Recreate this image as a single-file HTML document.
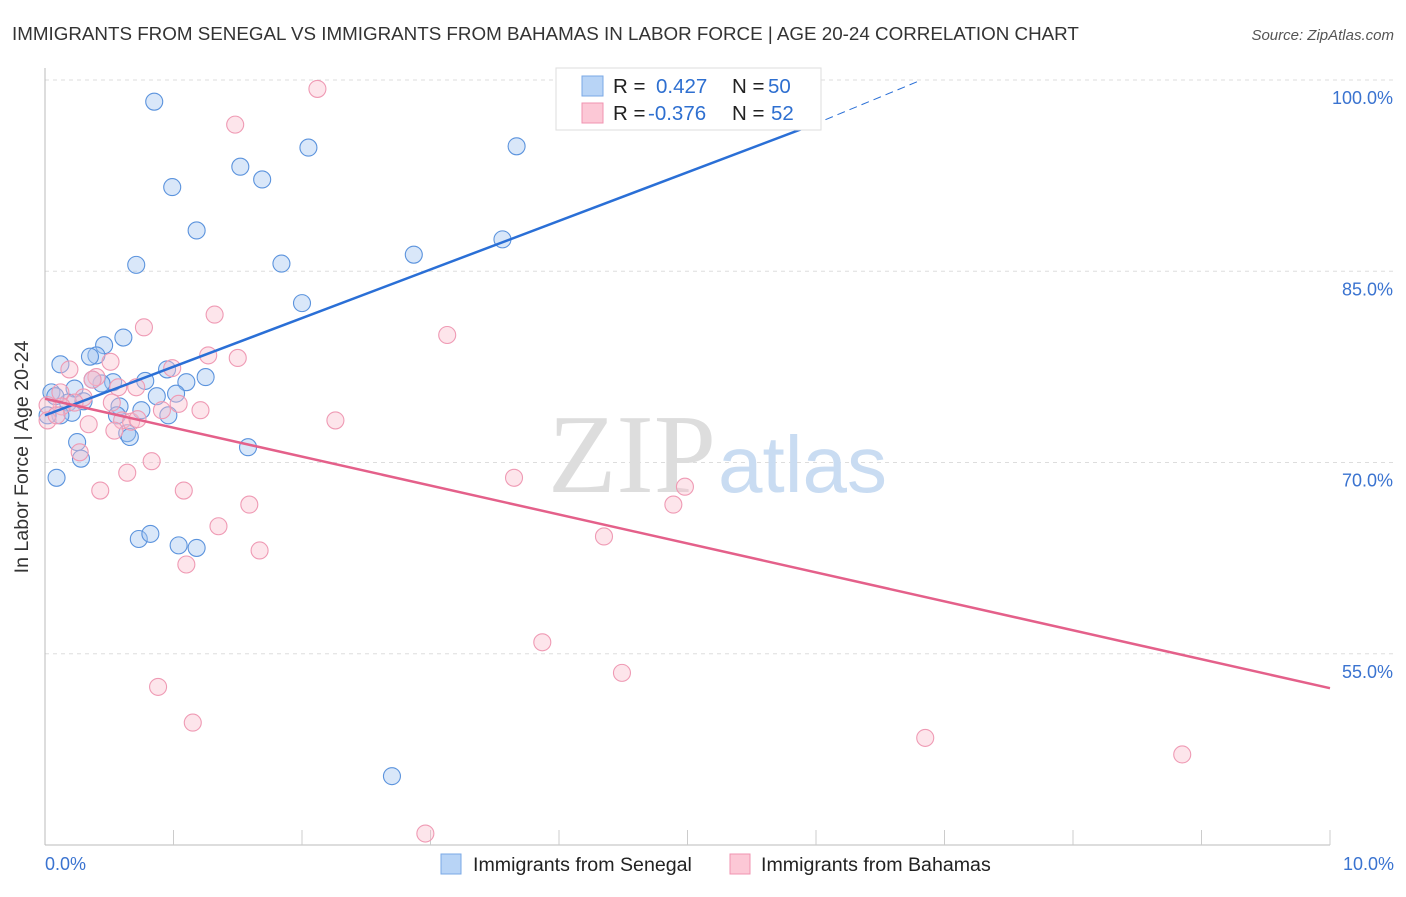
<!DOCTYPE html>
<html><head><meta charset="utf-8"><style>
body{margin:0;background:#fff;font-family:"Liberation Sans",sans-serif;}
</style></head><body>
<svg width="1406" height="892" xmlns="http://www.w3.org/2000/svg">
<text x="12" y="40" font-size="18.8" fill="#333">IMMIGRANTS FROM SENEGAL VS IMMIGRANTS FROM BAHAMAS IN LABOR FORCE | AGE 20-24 CORRELATION CHART</text>
<text x="1394" y="40" font-size="15" fill="#555" font-style="italic" text-anchor="end">Source: ZipAtlas.com</text>
<g id="grid"></g>
<text x="716" y="492" font-size="112" fill="#ddd" text-anchor="end" font-family="Liberation Serif,serif">ZIP</text>
<text x="718" y="492" font-size="80" fill="#c9dcf2">atlas</text>
<g id="pts"></g>
<g id="lines"></g>
<text x="28" y="457" font-size="19.6" fill="#333" text-anchor="middle" transform="rotate(-90 28 457)">In Labor Force | Age 20-24</text>
<g>
<rect x="556" y="68" width="265" height="62" fill="#fff" stroke="#ddd"/>
<rect x="582" y="76" width="21" height="20" fill="#b8d4f6" stroke="#7aa8e6"/>
<rect x="582" y="103" width="21" height="20" fill="#fcc8d6" stroke="#f093b0"/>
<text x="613" y="93" font-size="20.5" fill="#222">R = <tspan fill="#2e6fd0" x="656">0.427</tspan><tspan fill="#222" x="732">N = </tspan><tspan fill="#2e6fd0" x="768">50</tspan></text>
<text x="613" y="120" font-size="20.5" fill="#222">R = <tspan fill="#2e6fd0" x="648">-0.376</tspan><tspan fill="#222" x="732">N = </tspan><tspan fill="#2e6fd0" x="771">52</tspan></text>
</g>
<g>
<rect x="441" y="854" width="20" height="20" fill="#b8d4f6" stroke="#7aa8e6"/>
<text x="473" y="871" font-size="19.6" fill="#222">Immigrants from Senegal</text>
<rect x="730" y="854" width="20" height="20" fill="#fcc8d6" stroke="#f093b0"/>
<text x="761" y="871" font-size="19.6" fill="#222">Immigrants from Bahamas</text>
</g>
</svg>
<script>
const yTicks=[100,85,70,55];
const yTickLabels=["100.0%","85.0%","70.0%","55.0%"];
const xTickLabels=["0.0%","10.0%"];
const senegalX=[0.85,2.05,3.67,1.52,1.69,0.99,1.18,0.71,1.84,2.87,3.56,2,0.61,0.46,0.4,0.35,0.12,0.95,1.25,1.1,0.78,0.23,0.53,0.44,0.37,0.05,1.02,0.87,0.18,0.3,0.58,0.75,0.56,0.96,0.21,0.12,0.02,0.64,0.66,0.25,0.28,1.58,0.09,0.73,0.82,1.04,1.18,2.7,5.88,0.08];
const senegalY=[98.3,94.7,94.8,93.2,92.2,91.6,88.2,85.5,85.6,86.3,87.5,82.5,79.8,79.2,78.4,78.3,77.7,77.3,76.7,76.3,76.4,75.8,76.3,76.2,76.5,75.5,75.4,75.2,74.7,74.8,74.4,74.1,73.7,73.7,73.9,73.7,73.7,72.3,72,71.6,70.3,71.2,68.8,64,64.4,63.5,63.3,45.4,99.6,75.2];
const bahamasX=[2.12,5.21,1.48,1.32,0.77,3.13,1.27,1.5,0.51,0.99,0.19,0.4,0.37,0.71,0.12,0.57,1.04,1.21,0.91,0.52,0.3,0.23,0.13,0.02,2.26,0.34,0.6,0.67,0.27,0.83,0.64,0.43,1.08,3.65,4.98,4.89,1.59,1.35,4.35,1.67,1.1,3.87,4.49,0.88,1.15,6.85,8.85,2.96,0.02,0.54,0.09,0.72];
const bahamasY=[99.3,100,96.5,81.6,80.6,80,78.4,78.2,77.9,77.4,77.3,76.7,76.5,75.9,75.5,75.9,74.6,74.1,74.1,74.7,75.1,74.7,74.4,74.5,73.3,73,73.3,73.2,70.8,70.1,69.2,67.8,67.8,68.8,68.1,66.7,66.7,65,64.2,63.1,62,55.9,53.5,52.4,49.6,48.4,47.1,40.9,73.3,72.5,73.7,73.4];
const blueLine=[0,73.7,5.98,96.5,6.82,100];
const pinkLine=[0,75,10,52.3];
const NS="http://www.w3.org/2000/svg";
const X=v=>45+v*128.5, Y=v=>80+(100-v)*12.75;
function mk(t,a,p){const e=document.createElementNS(NS,t);for(const k in a)e.setAttribute(k,a[k]);p.appendChild(e);return e;}
const grid=document.getElementById('grid');
yTicks.forEach((t,i)=>{
 const l=mk('line',{x1:45,x2:1394,y1:Y(t),y2:Y(t),stroke:'#ddd','stroke-dasharray':'4 4'},grid);
 
 
 const tx=mk('text',{x:1393,y:Y(t)+24,'font-size':18,fill:'#3a73d0','text-anchor':'end'},grid);
 tx.textContent=yTickLabels[i];
 
 
});
const ax=mk('line',{x1:45,x2:45,y1:68,y2:845,stroke:'#bbb'},grid);


const bx=mk('line',{x1:45,x2:1330,y1:845,y2:845,stroke:'#bbb'},grid);


for(let i=1;i<=10;i++){const t=mk('line',{x1:X(i),x2:X(i),y1:830,y2:845,stroke:'#ccc'},grid);
 
 }
[[0,'start',45],[10,'end',1394]].forEach((d,i)=>{const t=mk('text',{x:d[2],y:870,'font-size':18,fill:'#3a73d0','text-anchor':d[1]},grid);t.textContent=xTickLabels[i];
 
 });
const pts=document.getElementById('pts');
senegalX.forEach((x,i)=>{const c=mk('circle',{cx:X(x),cy:Y(senegalY[i]),r:8.5,fill:'rgba(160,196,240,0.4)',stroke:'#5b93dd','stroke-width':1.1},pts);
 
 });
bahamasX.forEach((x,i)=>{const c=mk('circle',{cx:X(x),cy:Y(bahamasY[i]),r:8.5,fill:'rgba(250,190,206,0.4)',stroke:'#ef9ab4','stroke-width':1.1},pts);
 
 });
const lines=document.getElementById('lines');
const b1=mk('line',{x1:X(blueLine[0]),y1:Y(blueLine[1]),x2:X(blueLine[2]),y2:Y(blueLine[3]),stroke:'#2a6fd6','stroke-width':2.5},lines);


const b2=mk('line',{x1:X(blueLine[2]),y1:Y(blueLine[3]),x2:X(blueLine[4]),y2:Y(blueLine[5]),stroke:'#2a6fd6','stroke-width':1,'stroke-dasharray':'8 5'},lines);


const p1=mk('line',{x1:X(pinkLine[0]),y1:Y(pinkLine[1]),x2:X(pinkLine[2]),y2:Y(pinkLine[3]),stroke:'#e4608a','stroke-width':2.5},lines);


</script>
</body></html>
